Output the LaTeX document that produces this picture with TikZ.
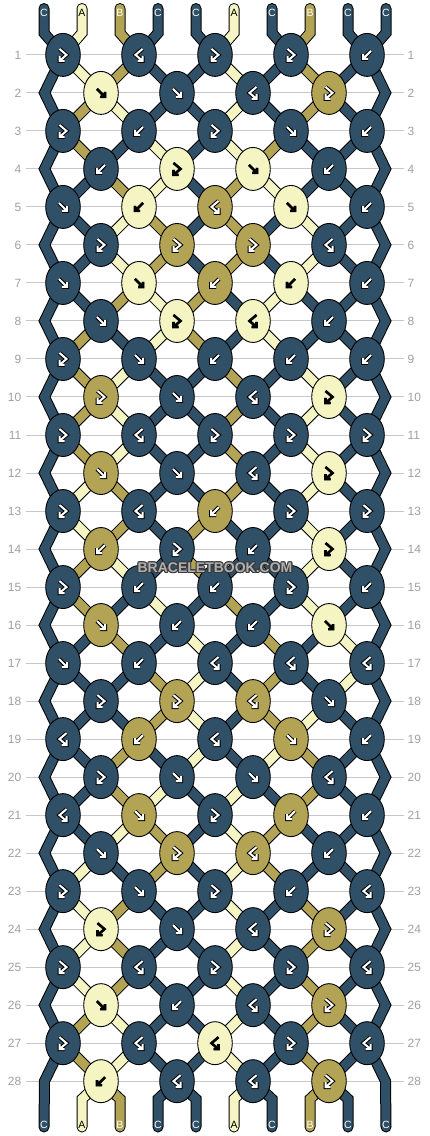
\documentclass[tikz,border=0pt]{standalone}
\usepackage{fontspec}
\setmainfont{Liberation Sans}
\usetikzlibrary{shapes.geometric}
\definecolor{colC}{HTML}{2F5067}
\definecolor{colA}{HTML}{F5F5C4}
\definecolor{colB}{HTML}{B3A354}
\definecolor{gridgray}{HTML}{C8C8C8}
\definecolor{numgray}{HTML}{A0A0A0}
\definecolor{wmdark}{HTML}{3A3A3A}
\definecolor{wmlight}{HTML}{B0B0B0}
\colorlet{outC}{black}\colorlet{midC}{black}\colorlet{inC}{white}
\colorlet{outB}{black}\colorlet{midB}{black}\colorlet{inB}{white}
\colorlet{outA}{colA}\colorlet{midA}{black}\colorlet{inA}{black}
\colorlet{txtC}{white}\colorlet{txtB}{white}\colorlet{txtA}{black}
\newcommand\symF[1]{\draw[#1] (-4,-4) -- (3.4,3.4) (-1,4) -- (4,4) -- (4,-1);}
\newcommand\symB[1]{\draw[#1] (4,-4) -- (-3.4,3.4) (1,4) -- (-4,4) -- (-4,-1);}
\newcommand\symFB[1]{\draw[#1] (-3.5,-6) -- (3.5,0) -- (-3,5.5) (1.5,6) -- (-3.5,6) -- (-3.5,1);}
\newcommand\symBF[1]{\draw[#1] (3.5,-6) -- (-3.5,0) -- (3,5.5) (-1.5,6) -- (3.5,6) -- (3.5,1);}
\begin{document}
\begin{tikzpicture}[x=1pt,y=-1pt,
  strandout/.style={line width=11pt, draw=black, line cap=round, line join=miter},
  strandin/.style={line width=9pt, line cap=round, line join=miter},
  knot/.style={ellipse, draw=black, line width=0.9pt, minimum width=34.6pt, minimum height=43pt, inner sep=0pt},
  arr/.style={line cap=square, line join=miter},
  lbl/.style={inner sep=0pt, font=\fontsize{10.5}{10.5}\selectfont},
  num/.style={inner sep=0pt, text=numgray, font=\fontsize{12}{12}\selectfont},
  wm/.style={inner sep=0pt, font=\fontsize{14}{14}\selectfont\bfseries}]
\path[use as bounding box, fill=white] (0,0) rectangle (430,1136);
% grid, row numbers, position coordinates
\foreach \r in {1,...,28}{
  \pgfmathsetmacro\yy{54.9+38.01*(\r-1)}
  \draw[gridgray, line width=1pt] (26,\yy) -- (404,\yy);
  \node[num, anchor=east] (NL-\r) at (21.5,\yy) {\r};
  \node[num, anchor=west] (NR-\r) at (407.5,\yy) {\r};
  \foreach \p in {1,...,10}{
    \pgfmathsetmacro\xx{mod(\r,2)==1 ? -13+76*ceil(\p/2) : (\p==1 ? 44.5 : (\p==10 ? 385.5 : 25+76*floor(\p/2)))}
    \coordinate (P-\r-\p) at (\xx,\yy);
  }
}
\foreach \p in {1,...,10}{
  \pgfmathsetmacro\xp{44+38*(\p-1)}
  \coordinate (T-\p) at (\xp,8.5);
  \coordinate (TB-\p) at (\xp,33);
  \coordinate (BB-\p) at (\xp,1099);
  \coordinate (BE-\p) at (\xp,1127);
}
% edge strands
\foreach \p in {1,10}{
  \draw[strandout] (T-\p) -- (TB-\p) \foreach \r in {1,...,28}{ -- (P-\r-\p)} -- (BE-\p);
  \draw[strandin, draw=colC] (T-\p) -- (TB-\p) \foreach \r in {1,...,28}{ -- (P-\r-\p)} -- (BE-\p);
}
% inner strands, colour of each position after row r
\foreach \st [count=\r from 0] in {
{C,A,B,C,C,A,C,B,C,C},{C,A,B,C,C,A,C,B,C,C},{C,B,A,C,C,A,C,B,C,C},{C,B,C,A,C,A,B,C,C,C},
{C,C,B,A,C,B,A,C,C,C},{C,C,A,B,C,B,C,A,C,C},{C,C,A,B,C,B,C,A,C,C},{C,C,B,A,B,C,A,C,C,C},
{C,B,C,A,B,C,A,C,C,C},{C,B,A,C,C,B,C,A,C,C},{C,B,A,C,C,B,C,A,C,C},{C,B,A,C,C,B,C,A,C,C},
{C,A,B,C,C,B,C,A,C,C},{C,A,B,C,B,C,C,A,C,C},{C,B,A,C,B,C,C,A,C,C},{C,B,C,A,C,B,C,A,C,C},
{C,C,B,C,A,C,B,C,A,C},{C,C,C,B,A,C,B,C,A,C},{C,C,C,B,A,C,B,A,C,C},{C,C,B,C,A,C,A,B,C,C},
{C,C,B,A,C,A,C,B,C,C},{C,C,A,B,C,A,B,C,C,C},{C,A,C,B,C,A,B,C,C,C},{C,A,B,C,C,A,C,B,C,C},
{C,A,B,C,C,A,C,B,C,C},{C,A,B,C,C,A,C,B,C,C},{C,B,A,C,C,A,C,B,C,C},{C,B,A,C,C,A,C,B,C,C},
{C,A,B,C,C,A,C,B,C,C}}{
  \foreach \c [count=\p] in \st {
    \ifnum\p>1 \ifnum\p<10
      \ifnum\r=0
        \draw[strandout] (T-\p) -- (TB-\p) -- (P-1-\p);
        \draw[strandin, draw=col\c] (T-\p) -- (TB-\p) -- (P-1-\p);
      \else\ifnum\r=28
        \draw[strandout] (P-28-\p) -- (BB-\p) -- (BE-\p);
        \draw[strandin, draw=col\c] (P-28-\p) -- (BB-\p) -- (BE-\p);
      \else
        \pgfmathtruncatemacro\rn{\r+1}
        \draw[strandout] (P-\r-\p) -- (P-\rn-\p);
        \draw[strandin, draw=col\c] (P-\r-\p) -- (P-\rn-\p);
      \fi\fi
    \fi\fi
  }
}
% knots
\foreach \row [count=\r] in {
{FB/C,BF/C,FB/C,FB/C,B/C},{F/A,F/C,BF/C,FB/B},{FB/C,B/C,FB/C,F/C,B/C},{B/C,FB/A,F/A,B/C},
{F/C,B/A,BF/B,F/A,B/C},{FB/C,FB/B,FB/B,BF/C},{F/C,F/A,B/B,B/A,B/C},{F/C,FB/A,BF/A,B/C},
{FB/C,F/C,B/C,B/C,B/C},{FB/B,F/C,BF/C,FB/A},{FB/C,BF/C,FB/C,FB/C,FB/C},{F/B,F/C,BF/C,FB/A},
{FB/C,BF/C,B/B,FB/C,FB/C},{B/B,FB/C,B/C,FB/A},{FB/C,B/C,B/C,FB/C,B/C},{F/B,B/C,B/C,F/A},
{F/C,B/C,BF/C,BF/C,BF/C},{FB/C,FB/B,BF/B,F/C},{BF/C,B/B,BF/C,F/B,B/C},{FB/C,F/C,F/C,BF/C},
{BF/C,F/B,FB/C,B/B,B/C},{F/C,FB/B,BF/B,B/C},{FB/C,F/C,FB/C,B/C,BF/C},{FB/A,F/C,BF/C,FB/B},
{FB/C,BF/C,FB/C,FB/C,BF/C},{F/A,B/C,BF/C,FB/B},{FB/C,BF/C,BF/A,FB/C,BF/C},{B/A,BF/C,BF/C,FB/B}}{
  \foreach \kt/\kc [count=\k] in \row {
    \pgfmathtruncatemacro\pp{mod(\r,2)==1 ? 2*\k-1 : 2*\k}
    \node[knot, fill=col\kc] (K-\r-\k) at (P-\r-\pp) {};
    \begin{scope}[shift={(K-\r-\k.center)}]
      \csname sym\kt\endcsname{arr, line width=4pt, draw=out\kc}
      \csname sym\kt\endcsname{arr, line width=2.6pt, draw=mid\kc}
      \csname sym\kt\endcsname{arr, line width=2pt, draw=in\kc}
    \end{scope}
  }
}
% string labels
\foreach \c [count=\p] in {C,A,B,C,C,A,C,B,C,C}{
  \pgfmathsetmacro\xp{44+38*(\p-1)}
  \node[lbl, text=txt\c] (LT-\p) at (\xp,12.5) {\c};
  \node[lbl, text=txt\c] (LB-\p) at (\xp,1124.5) {\c};
}
% watermark
\foreach \dx/\dy [count=\i] in {1.1/0,-1.1/0,0/1.1,0/-1.1,0.8/0.8,-0.8/0.8,0.8/-0.8,-0.8/-0.8}{
  \node[wm, text=wmdark, xshift=\dx pt, yshift=\dy pt] (WMo-\i) at (215,567.5) {BRACELETBOOK.COM};
}
\node[wm, text=wmlight] (WM) at (215,567.5) {BRACELETBOOK.COM};
\end{tikzpicture}
\end{document}
